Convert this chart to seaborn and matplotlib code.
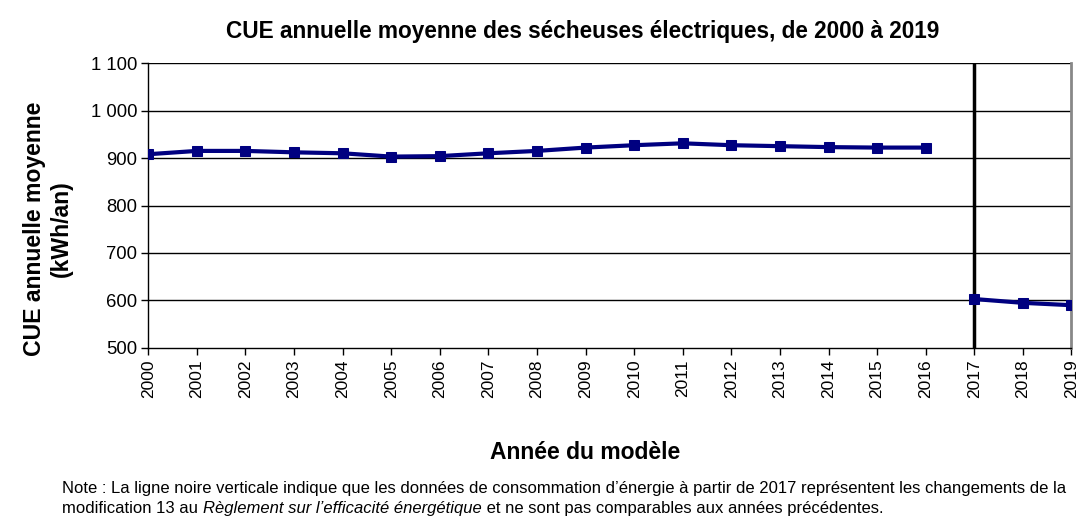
import pandas as pd
import matplotlib.pyplot as plt
import seaborn as sns

annees = list(range(2000, 2020))
cue = [908, 915, 915, 912, 910, 903, 904, 910, 915, 922, 927, 931, 927, 925, 923, 922, 922,
       603, 595, 590]
# 2017+ follow the amended regulation, drawn as a separate segment
periode = ['avant'] * 17 + ['apres'] * 3
y_ticks = [500, 600, 700, 800, 900, 1000, 1100]
y_labels = ['500', '600', '700', '800', '900', '1 000', '1 100']

df = pd.DataFrame({'annee': annees, 'cue': cue, 'periode': periode})

sns.set_style('white')
plt.rcParams['font.family'] = ['Liberation Sans', 'DejaVu Sans']
plt.rcParams['text.color'] = 'black'
plt.rcParams['axes.labelcolor'] = 'black'
plt.rcParams['xtick.color'] = 'black'
plt.rcParams['ytick.color'] = 'black'

fig = plt.figure(figsize=(10.9, 5.17), dpi=100)
ax = fig.add_axes([0.136, 0.327, 0.847, 0.551])

for y in y_ticks[1:]:
    ax.axhline(y, color='black', lw=1, zorder=1)
ax.axvline(2017, color='black', lw=2.5, zorder=2)

sns.lineplot(data=df, x='annee', y='cue', units='periode', estimator=None,
             color='#000080', lw=3, marker='s', markersize=7, markeredgecolor='#000080',
             ax=ax, zorder=3)

ax.set_xlim(2000, 2019)
ax.set_ylim(500, 1100)
ax.set_xticks(annees)
ax.set_xticklabels([str(a) for a in annees], rotation=90, fontsize=12.5)
ax.set_yticks(y_ticks)
ax.set_yticklabels(y_labels, fontsize=13.3)
ax.tick_params(axis='both', length=5, width=1, color='black', direction='out',
               left=True, bottom=True, pad=3)

ax.spines['top'].set_visible(False)
ax.spines['right'].set_color('#888888')
ax.spines['right'].set_linewidth(2)
for s in ['left', 'bottom']:
    ax.spines[s].set_color('black')
    ax.spines[s].set_linewidth(1)

fig.text(0.535, 0.94, 'CUE annuelle moyenne des sécheuses électriques, de 2000 à 2019',
         ha='center', va='center', fontsize=16.3, fontweight='bold')
ax.set_xlabel('')
ax.set_ylabel('')
fig.text(0.044, 1 - 229 / 517, 'CUE annuelle moyenne\n(kWh/an)', rotation=90,
         ha='center', va='center', multialignment='center', fontsize=16.6,
         fontweight='bold', linespacing=1.2)
fig.text(0.537, 0.125, 'Année du modèle', ha='center', va='center', fontsize=16.5,
         fontweight='bold')

t1 = fig.text(0.057, 0.046, "Note : La ligne noire verticale indique que les données de consommation "
              "d’énergie à partir de 2017 représentent les changements de la",
              fontsize=12, va='baseline')
t2 = fig.text(0.057, 0.008, 'modification 13 au ', fontsize=12, va='baseline')
t3 = ax.annotate('Règlement sur l’efficacité énergétique', xy=(1, 0), xycoords=t2,
                 fontsize=12, style='italic', va='bottom')
ax.annotate(' et ne sont pas comparables aux années précédentes.', xy=(1, 0), xycoords=t3,
            fontsize=12, va='bottom')

fig.savefig('out.png', dpi=100)
